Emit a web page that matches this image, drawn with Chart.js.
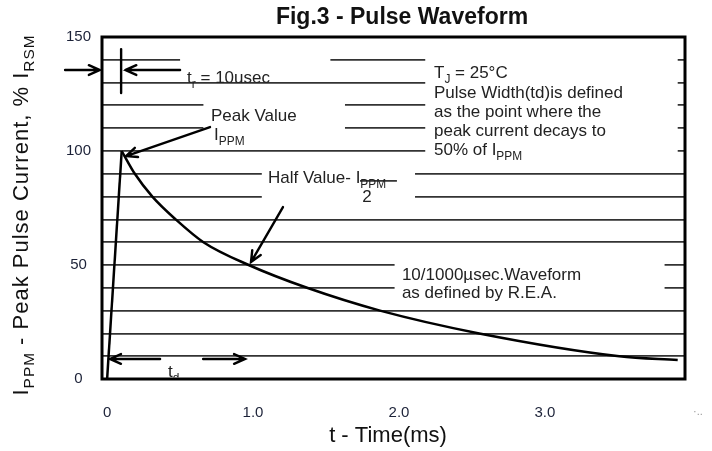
<!DOCTYPE html>
<html>
<head>
<meta charset="utf-8">
<title>Fig.3 - Pulse Waveform</title>
<script src="https://cdn.jsdelivr.net/npm/chart.js@4.4.1/dist/chart.umd.min.js"></script>
<style>
  html, body { margin: 0; padding: 0; background: #fff; }
</style>
</head>
<body>
<canvas id="pulseChart" width="712" height="451"></canvas>
<script>
// axis ticks
const timeTicks = [0, 1, 2, 3];          // ms
const currentTicks = [0, 50, 100, 150];  // % IRSM

// 10/1000 usec waveform
const riseTime = [0, 0.1];
const riseCurrent = [0, 100];
const decayTime = [0.1, 0.19, 0.31, 0.47, 0.66, 0.97, 1.37, 1.87, 2.55, 3.51, 3.91];
const decayCurrent = [100, 90, 80, 70, 60, 50, 40, 30, 20, 10, 8.3];

const FONT = "'Liberation Sans', Arial, Helvetica, sans-serif";
const INK = '#222';

function toPoints(xs, ys) {
    return xs.map((x, i) => ({ x: x, y: ys[i] }));
}

// draws text with subscript parts: parts = [[text, isSub], ...]
function richText(ctx, parts, x, y, size, align, bold) {
    const fontOf = (s) => (bold ? 'bold ' : '') + s + 'px ' + FONT;
    const widths = parts.map(([s, sub]) => {
        ctx.font = fontOf(sub ? size * 0.7 : size);
        return ctx.measureText(s).width;
    });
    const total = widths.reduce((a, b) => a + b, 0);
    let cx = align === 'center' ? x - total / 2 : x;
    ctx.textAlign = 'left';
    ctx.textBaseline = 'alphabetic';
    parts.forEach(([s, sub], i) => {
        ctx.font = fontOf(sub ? size * 0.7 : size);
        ctx.fillText(s, cx, sub ? y + size * 0.28 : y);
        cx += widths[i];
    });
}

function arrow(ctx, x1, y1, x2, y2) {
    const a = Math.atan2(y2 - y1, x2 - x1);
    const len = 12, spread = 0.42;
    ctx.beginPath();
    ctx.moveTo(x1, y1);
    ctx.lineTo(x2, y2);
    ctx.moveTo(x2 - len * Math.cos(a - spread), y2 - len * Math.sin(a - spread));
    ctx.lineTo(x2, y2);
    ctx.lineTo(x2 - len * Math.cos(a + spread), y2 - len * Math.sin(a + spread));
    ctx.stroke();
}

const waveformNotes = {
    id: 'waveformNotes',
    beforeDatasetsDraw(chart) {
        // the original breaks the grid lines around its notes
        const { ctx, scales: { x, y } } = chart;
        const gaps = [
            [0.5, 1.53, 142, 138],
            [0.66, 1.63, 124, 105],
            [2.18, 3.91, 146.5, 94.5],
            [1.06, 2.11, 94, 75],
            [1.97, 3.82, 54, 35]
        ];
        ctx.save();
        ctx.fillStyle = '#fff';
        gaps.forEach(([t0, t1, v0, v1]) => {
            const px0 = x.getPixelForValue(t0), py0 = y.getPixelForValue(v0);
            ctx.fillRect(px0, py0, x.getPixelForValue(t1) - px0, y.getPixelForValue(v1) - py0);
        });
        ctx.restore();
    },
    afterDatasetsDraw(chart) {
        const { ctx, chartArea: area, scales: { x, y } } = chart;
        const X = (t) => x.getPixelForValue(t);
        const Y = (v) => y.getPixelForValue(v);

        ctx.save();
        // frame
        ctx.strokeStyle = '#000';
        ctx.lineWidth = 3;
        ctx.strokeRect(area.left, area.top, area.right - area.left, area.bottom - area.top);

        // arrows
        ctx.lineWidth = 2.4;
        ctx.lineCap = 'round';
        arrow(ctx, X(-0.288), Y(135.5), X(-0.05), Y(135.5));
        arrow(ctx, X(0.5), Y(135.5), X(0.125), Y(135.5));
        ctx.beginPath();
        ctx.moveTo(X(0.096), Y(144.7));
        ctx.lineTo(X(0.096), Y(125.4));
        ctx.stroke();
        arrow(ctx, X(0.705), Y(110.5), X(0.13), Y(97.8));
        arrow(ctx, X(1.205), Y(75.4), X(0.986), Y(51.3));
        arrow(ctx, X(0.363), Y(8.8), X(0.02), Y(8.8));
        arrow(ctx, X(0.658), Y(8.8), X(0.945), Y(8.8));

        // notes
        ctx.fillStyle = INK;
        const fs = 17;
        richText(ctx, [['t', false], ['r', true], [' = 10usec', false]], X(0.548), Y(129.8), fs);
        richText(ctx, [['Peak Value', false]], X(0.712), Y(113.2), fs);
        richText(ctx, [['I', false], ['PPM', true]], X(0.733), Y(104.8), fs);

        const tx = X(2.24);
        richText(ctx, [['T', false], ['J', true], [' = 25\u00B0C', false]], tx, Y(132), fs);
        richText(ctx, [['Pulse Width(td)is defined', false]], tx, Y(123.2), fs);
        richText(ctx, [['as the point where the', false]], tx, Y(114.9), fs);
        richText(ctx, [['peak current decays to', false]], tx, Y(106.6), fs);
        richText(ctx, [['50% of I', false], ['PPM', true]], tx, Y(98.2), fs);

        richText(ctx, [['Half Value- I', false], ['PPM', true]], X(1.103), Y(86), fs);
        ctx.fillRect(X(1.733), Y(86.8) - 1, X(1.986) - X(1.733), 1.6);
        richText(ctx, [['2', false]], X(1.78), Y(77.6), fs, 'center');

        richText(ctx, [['10/1000\u00B5sec.Waveform', false]], X(2.02), Y(43.4), fs);
        richText(ctx, [['as defined by R.E.A.', false]], X(2.02), Y(35.6), fs);

        ctx.save();
        ctx.beginPath();
        ctx.rect(area.left, area.top, area.right - area.left, area.bottom - area.top - 1.5);
        ctx.clip();
        richText(ctx, [['t', false], ['d', true]], X(0.418), Y(0.9), fs);
        ctx.restore();

        // title and axis titles
        ctx.fillStyle = '#111';
        ctx.textBaseline = 'middle';
        ctx.textAlign = 'center';
        ctx.font = 'bold 23px ' + FONT;
        ctx.fillText('Fig.3 - Pulse Waveform', 402, 18);
        ctx.font = '22px ' + FONT;
        ctx.fillText('t - Time(ms)', 388, 436);

        ctx.fillStyle = '#999';
        ctx.font = '11px ' + FONT;
        ctx.textAlign = 'left';
        ctx.fillText('\u00B7..', 693, 412);

        ctx.fillStyle = '#111';
        ctx.translate(28, 215);
        ctx.rotate(-Math.PI / 2);
        ctx.letterSpacing = '1px';
        richText(ctx, [['I', false], ['PPM', true], [' - Peak Pulse Current, % I', false], ['RSM', true]], 0, 0, 22, 'center');
        ctx.letterSpacing = '0px';
        ctx.restore();
    }
};

window.onload = function() {
    const canvas = document.getElementById('pulseChart');
    const ctx = canvas.getContext('2d');

    new Chart(ctx, {
        type: 'scatter',
        data: {
            datasets: [{
                data: toPoints(riseTime, riseCurrent),
                showLine: true,
                borderColor: '#000',
                borderWidth: 2.5,
                pointRadius: 0,
                tension: 0
            }, {
                data: toPoints(decayTime, decayCurrent),
                showLine: true,
                borderColor: '#000',
                borderWidth: 2.5,
                pointRadius: 0,
                cubicInterpolationMode: 'monotone'
            }]
        },
        options: {
            responsive: false,
            animation: false,
            layout: { padding: { top: 37, right: 27, left: 0, bottom: 0 } },
            plugins: {
                legend: { display: false },
                tooltip: { enabled: false }
            },
            scales: {
                x: {
                    type: 'linear',
                    min: -0.035,
                    max: 3.96,
                    grid: { display: false },
                    border: { display: false },
                    afterBuildTicks: (scale) => { scale.ticks = timeTicks.map(v => ({ value: v })); },
                    afterFit: (scale) => { scale.height = 72; },
                    ticks: {
                        padding: 17,
                        maxRotation: 0,
                        autoSkip: false,
                        color: '#1c2238',
                        font: { size: 15, family: FONT },
                        callback: (v) => v === 0 ? '0' : v.toFixed(1)
                    }
                },
                y: {
                    min: 0,
                    max: 150,
                    grid: { color: '#333', lineWidth: 1.8, drawTicks: false },
                    border: { display: false },
                    afterFit: (scale) => { scale.width = 102; },
                    ticks: {
                        stepSize: 10,
                        autoSkip: false,
                        padding: 11,
                        crossAlign: 'center',
                        color: '#1c2238',
                        font: { size: 15, family: FONT },
                        callback: (v) => currentTicks.includes(v) ? String(v) : ''
                    }
                }
            }
        },
        plugins: [waveformNotes]
    });
};
</script>
</body>
</html>
